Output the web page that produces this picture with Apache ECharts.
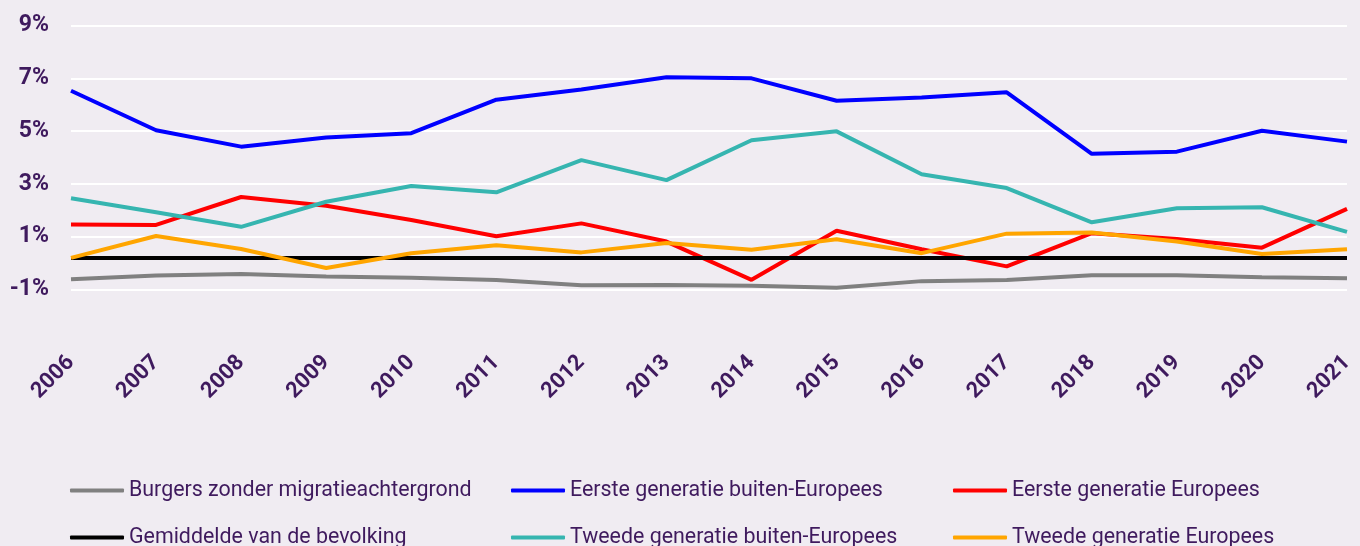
<!DOCTYPE html>
<html>
<head>
<meta charset="utf-8">
<script src="https://cdn.jsdelivr.net/npm/echarts@6/dist/echarts.min.js"></script>
<style>
html,body{margin:0;padding:0;background:#F0ECF2;}
#chart{width:1360px;height:546px;}
</style>
</head>
<body>
<div id="chart"></div>
<script>
const years = ['2006','2007','2008','2009','2010','2011','2012','2013','2014','2015','2016','2017','2018','2019','2020','2021'];
const burgers = [-0.62,-0.48,-0.42,-0.51,-0.56,-0.65,-0.85,-0.84,-0.87,-0.94,-0.69,-0.65,-0.47,-0.47,-0.54,-0.58];
const eersteBuiten = [6.53,5.03,4.41,4.76,4.92,6.19,6.58,7.04,7.00,6.15,6.27,6.47,4.14,4.22,5.01,4.60];
const eersteEuropees = [1.46,1.44,2.50,2.17,1.63,1.01,1.50,0.81,-0.64,1.22,0.52,-0.13,1.13,0.91,0.58,2.05];
const gemiddelde = [0.19,0.19,0.19,0.19,0.19,0.19,0.19,0.19,0.19,0.19,0.19,0.19,0.19,0.19,0.19,0.19];
const tweedeBuiten = [2.45,1.92,1.37,2.32,2.92,2.68,3.90,3.14,4.65,4.99,3.36,2.84,1.54,2.07,2.11,1.18];
const tweedeEuropees = [0.19,1.02,0.53,-0.19,0.37,0.67,0.40,0.76,0.50,0.90,0.37,1.11,1.15,0.81,0.34,0.52];

const names = ['Burgers zonder migratieachtergrond','Eerste generatie buiten-Europees','Eerste generatie Europees',
  'Gemiddelde van de bevolking','Tweede generatie buiten-Europees','Tweede generatie Europees'];
const txt = '#3F1A5E';
const font = 'Roboto';
function line(name, data, color) {
  return { name, type: 'line', data, symbol: 'none', smooth: false,
    lineStyle: { color, width: 4 }, itemStyle: { color }, z: 3 };
}
const colLeft = [70, 511, 953];
const rowTop = [480, 527];
const legends = names.map((n, i) => ({
  orient: 'horizontal', left: colLeft[i % 3], top: rowTop[Math.floor(i / 3)],
  itemWidth: 54, itemHeight: 4, icon: 'roundRect', padding: 0,
  textStyle: { color: txt, fontFamily: font, fontSize: 21.4, padding: [0, 0, 0, 0] },
  data: [n]
}));
const chart = echarts.init(document.getElementById('chart'), null, { renderer: 'canvas' });
chart.setOption({
  backgroundColor: '#F0ECF2',
  animation: false,
  grid: { left: 71, right: 13, top: 25.6, bottom: 256.7, containLabel: false },
  xAxis: {
    type: 'category', data: years, boundaryGap: false,
    axisLine: { show: false }, axisTick: { show: false },
    axisLabel: { rotate: 45, margin: 70, color: txt, fontFamily: font, fontWeight: 'bold', fontSize: 22 }
  },
  yAxis: {
    type: 'value', min: -1, max: 9, interval: 2,
    axisLine: { show: false }, axisTick: { show: false },
    splitLine: { show: true, lineStyle: { color: '#FFFFFF', width: 2 } },
    axisLabel: { margin: 22, color: txt, fontFamily: font, fontWeight: 'bold', fontSize: 23,
      padding: [4, 0, 0, 0], formatter: v => v + '%' }
  },
  legend: legends,
  series: [
    line(names[0], burgers, '#808080'),
    line(names[1], eersteBuiten, '#0000FF'),
    line(names[2], eersteEuropees, '#FF0000'),
    line(names[3], gemiddelde, '#000000'),
    line(names[4], tweedeBuiten, '#36B5B0'),
    line(names[5], tweedeEuropees, '#FFA500')
  ]
});
</script>
</body>
</html>
